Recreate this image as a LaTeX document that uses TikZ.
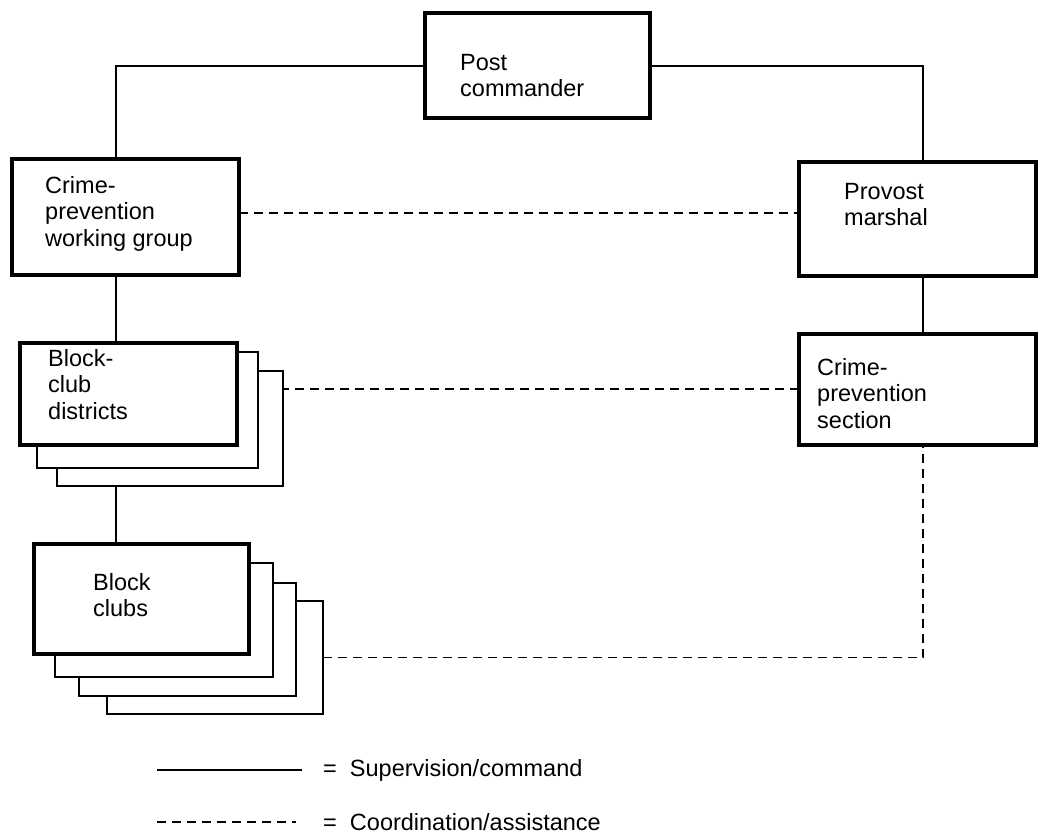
\documentclass[tikz,border=0pt]{standalone}
\usepackage{fontspec}
\setmainfont{Liberation Sans}
\tikzset{
  unit/.style={draw, line width=4pt, fill=white, inner sep=0pt, outer sep=0pt},
  stack/.style={draw, line width=1.5pt, fill=white, inner sep=0pt, outer sep=0pt},
  lbl/.style={font=\fontsize{23.5}{26.5}\selectfont, align=left, inner sep=0pt, anchor=north west},
  cmd/.style={line width=1.5pt},
  coord/.style={line width=1.6pt, dash pattern=on 9pt off 6pt},
}
\begin{document}
\begin{tikzpicture}[x=1pt,y=1pt]
        \useasboundingbox (0,0) rectangle (1039,-837);
        % Top box
        \node[unit, minimum width=225, minimum height=105] (post) at (537,-66) {};
        \node[lbl] (posttxt) at (460,-54) {Post\\commander};
        % Left column
        \node[unit, minimum width=227, minimum height=115] (cpwg) at (125,-217) {};
        \node[lbl] (cpwgtxt) at (45,-176) {Crime-\\prevention\\working group};
        \node[stack, minimum width=226, minimum height=115] (dist3) at (170,-428.5) {};
        \node[stack, minimum width=221, minimum height=116] (dist2) at (147.5,-410) {};
        \node[unit, minimum width=217, minimum height=102] (dist) at (128,-393.5) {};
        \node[lbl] (disttxt) at (48,-349) {Block-\\club\\districts};
        \node[stack, minimum width=216, minimum height=113] (club4) at (215,-657.5) {};
        \node[stack, minimum width=217, minimum height=113] (club3) at (187.5,-639.5) {};
        \node[stack, minimum width=218, minimum height=114] (club2) at (164,-620) {};
        \node[unit, minimum width=215, minimum height=110] (club) at (141,-598.5) {};
        \node[lbl] (clubtxt) at (93,-573) {Block\\clubs};
        % Right column
        \node[unit, minimum width=237, minimum height=113] (pm) at (917.5,-219) {};
        \node[lbl] (pmtxt) at (844,-183) {Provost\\marshal};
        \node[unit, minimum width=237, minimum height=111] (cps) at (917.5,-389) {};
        \node[lbl] (cpstxt) at (817,-358) {Crime-\\prevention\\section};
        \coordinate (lspine) at (116,0);
        \coordinate (rspine) at (923,0);
        % Supervision lines
        \draw[cmd] (post.west) -| (cpwg.north -| lspine);
        \draw[cmd] (post.east) -| (pm.north -| rspine);
        \draw[cmd] (cpwg.south -| lspine) -- (dist.north -| lspine);
        \draw[cmd] (dist3.south -| lspine) -- (club.north -| lspine);
        \draw[cmd] (pm.south -| rspine) -- (cps.north -| rspine);
        % Coordination lines
        \draw[coord] ([yshift=4]cpwg.east) -- ([yshift=4]cpwg.east -| pm.west);
        \draw[coord] (cps.west) -- (cps.west -| dist3.east);
        \draw[coord] (club4.east) -| (cps.south -| rspine);
        % Key
        \node[lbl, anchor=west] (supv) at (323,-770) {=~~Supervision/command};
        \node[lbl, anchor=west] (coor) at (323,-822) {=~~Coordination/assistance};
        \draw[cmd] ([xshift=-166]supv.west) -- ([xshift=-21]supv.west);
        \draw[coord] ([xshift=-166]coor.west) -- ([xshift=-27]coor.west);
\end{tikzpicture}
\end{document}
